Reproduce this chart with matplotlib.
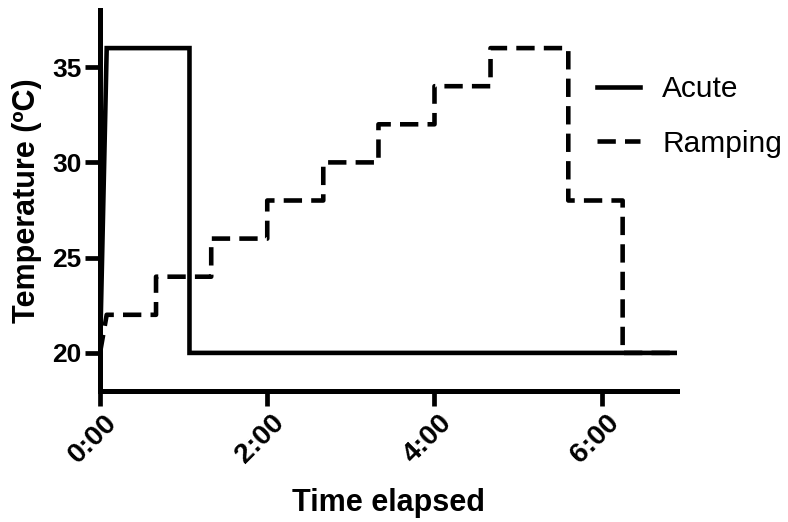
import matplotlib
matplotlib.use("Agg")
import matplotlib.pyplot as plt
from matplotlib.ticker import FuncFormatter
from matplotlib.transforms import ScaledTranslation

plt.rcParams['font.family'] = ['Liberation Sans', 'DejaVu Sans']

# Data (time in hours, temperature in ºC)
acute_time = [0, 0.08, 1.07, 1.07, 6.9]
acute_temp = [20, 36, 36, 20, 20]

ramp_time = [0, 0.08, 0.67, 0.67, 1.33, 1.33, 2.0, 2.0, 2.67, 2.67, 3.33, 3.33,
             4.0, 4.0, 4.67, 4.67, 5.6, 5.6, 6.25, 6.25, 6.9]
ramp_temp = [20, 22, 22, 24, 24, 26, 26, 28, 28, 30, 30, 32,
             32, 34, 34, 36, 36, 28, 28, 20, 20]

x_ticks = [0, 2, 4, 6]
y_ticks = [20, 25, 30, 35]

fig = plt.figure(figsize=(7.88, 5.22), dpi=100)
ax = fig.add_axes([100/788, 1 - 391/522, (677-100)/788, (391-10)/522])

ax.plot(ramp_time, ramp_temp, color='black', lw=3.3, linestyle=(0, (4, 2)),
        dash_capstyle='butt', label='Ramping', zorder=2)
ax.plot(acute_time, acute_temp, color='black', lw=3.3, label='Acute',
        solid_joinstyle='miter', zorder=3)

ax.set_xlim(0, 6.9)
ax.set_ylim(18, 38)
ax.set_xticks(x_ticks)
ax.set_yticks(y_ticks)
ax.xaxis.set_major_formatter(FuncFormatter(lambda v, p: f"{int(v)}:{int(round((v-int(v))*60)):02d}"))

for s in ['top', 'right']:
    ax.spines[s].set_visible(False)
for s in ['left', 'bottom']:
    ax.spines[s].set_linewidth(3.6)
    ax.spines[s].set_capstyle('projecting')

ax.tick_params(axis='both', direction='out', length=10.5, width=3.4)
ax.tick_params(axis='y', labelsize=19, pad=3)
ax.tick_params(axis='x', labelsize=20.5, pad=3)
offset = ScaledTranslation(4/100, 0, fig.dpi_scale_trans)
for lab in ax.get_xticklabels():
    lab.set_fontweight('bold')
    lab.set_rotation(45)
    lab.set_ha('right')
    lab.set_va('top')
    lab.set_rotation_mode('anchor')
    lab.set_transform(lab.get_transform() + offset)
for lab in ax.get_yticklabels():
    lab.set_fontweight('bold')

ax.set_xlabel('Time elapsed', fontsize=22, fontweight='bold', labelpad=14)
ax.set_ylabel('Temperature (ºC)', fontsize=22, fontweight='bold', labelpad=7)

handles, labels = ax.get_legend_handles_labels()
order = [1, 0]
fig.legend([handles[i] for i in order], [labels[i] for i in order],
           loc='center left', bbox_to_anchor=(597/788, 1 - 116.5/522),
           frameon=False, fontsize=21.5, handlelength=1.44, handletextpad=0.74,
           labelspacing=0.88, borderpad=0, borderaxespad=0)

fig.savefig('out.png', dpi=100)
